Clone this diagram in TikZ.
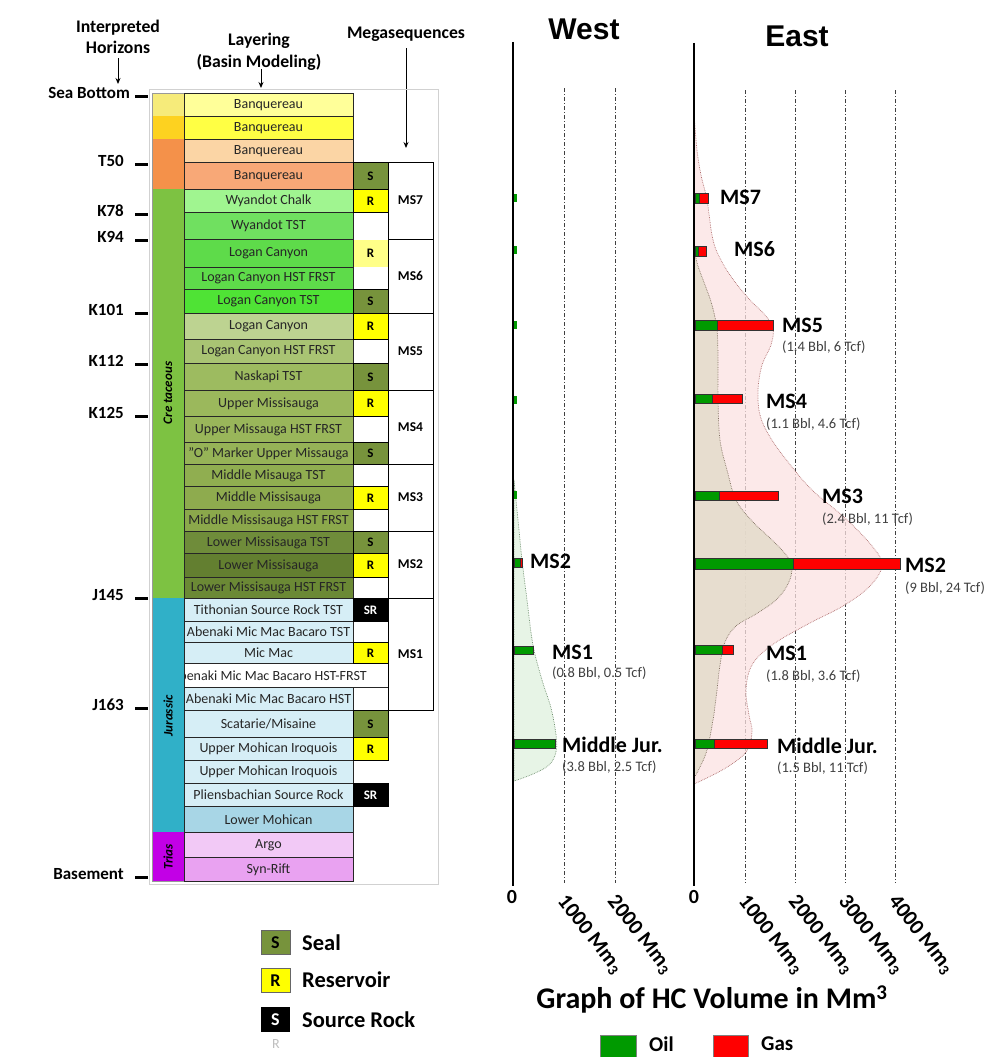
\documentclass[tikz,border=0pt]{standalone}
\usepackage{fontspec}
\setmainfont{Carlito}
\newfontfamily\arialf{Liberation Sans}
\usetikzlibrary{arrows.meta}
\definecolor{ageA}{HTML}{F6EB7A}
\definecolor{ageB}{HTML}{FDD220}
\definecolor{ageC}{HTML}{F4914A}
\definecolor{ageK}{HTML}{7DC242}
\definecolor{ageJ}{HTML}{30B0C8}
\definecolor{ageT}{HTML}{C200E6}
\definecolor{c1}{HTML}{FFFF99}
\definecolor{c2}{HTML}{FFFF44}
\definecolor{c3}{HTML}{FBD5A5}
\definecolor{c4}{HTML}{F8A877}
\definecolor{c5}{HTML}{A0F590}
\definecolor{c6}{HTML}{70E060}
\definecolor{c7}{HTML}{5EDB4A}
\definecolor{c9}{HTML}{4FE335}
\definecolor{c10}{HTML}{BDD391}
\definecolor{c11}{HTML}{A9C473}
\definecolor{c12}{HTML}{9DBB60}
\definecolor{c13}{HTML}{9BB85C}
\definecolor{c14}{HTML}{99B65A}
\definecolor{c15}{HTML}{96B357}
\definecolor{c16}{HTML}{90AE50}
\definecolor{c17}{HTML}{8EAB4E}
\definecolor{c18}{HTML}{8BA84B}
\definecolor{c19}{HTML}{6F8C3A}
\definecolor{c20}{HTML}{637F30}
\definecolor{c21}{HTML}{6B8935}
\definecolor{cJ}{HTML}{D6EEF6}
\definecolor{cLM}{HTML}{A8D6E6}
\definecolor{cArgo}{HTML}{F2C9F6}
\definecolor{cSyn}{HTML}{E9A2F1}
\definecolor{sealc}{HTML}{77933C}
\definecolor{resc}{HTML}{FFFF00}
\definecolor{respale}{HTML}{FFFF88}
\definecolor{oilg}{HTML}{009A00}
\definecolor{gasr}{HTML}{FF0000}
\definecolor{pinkf}{HTML}{FCE2E2}
\definecolor{pinkd}{HTML}{B07070}
\definecolor{tanf}{HTML}{E4DCCB}
\definecolor{tand}{HTML}{807060}
\definecolor{westf}{HTML}{E2F2E0}
\definecolor{westd}{HTML}{709070}
\newcommand\fsz[1]{\fontsize{#1}{#1}\selectfont}
\newcommand\lay[5]{%
  \filldraw[fill=#4, laybord] (184,#2) rectangle (353,#3);
  \node[laytxt] (#1) at (268.5,{(#2+#3)/2+0.5}) {#5};}
\newcommand\srcell[6]{%
  \filldraw[fill=#3, cellbord] (353,#1) rectangle (388,#2);
  \node[srtxt, text=#4] (#5) at (370.5,{(#1+#2)/2+0.5}) {#6};}
\newcommand\msbox[4]{%
  \filldraw[fill=white, cellbord] (388,#2) rectangle (433,#3);
  \node[mstxt] (#1) at (410.5,{(#2+#3)/2}) {#4};}
\newcommand\hcbar[5]{%
  \filldraw[fill=oilg, barbord] (#3,#1) rectangle (#4,#2);
  \filldraw[fill=gasr, barbord] (#4,#1) rectangle (#5,#2);}
\begin{document}
\begin{tikzpicture}[x=1pt,y=-1pt,
  laybord/.style={draw=black!85, line width=1pt},
  cellbord/.style={draw=black, line width=0.9pt},
  barbord/.style={draw=black!80, line width=0.6pt},
  laytxt/.style={font=\fsz{14}, text=black!85, inner sep=0pt},
  srtxt/.style={font=\bfseries\fsz{13}, inner sep=0pt},
  mstxt/.style={font=\bfseries\fsz{13.5}, inner sep=0pt},
  hor/.style={font=\bfseries\fsz{17}, anchor=east, inner sep=0pt},
  hortick/.style={line width=3pt},
  hdr/.style={font=\bfseries\fontsize{17.7}{21.5}\selectfont, align=center, inner sep=0pt},
  arr/.style={-{Stealth[length=6pt,width=5pt]}, line width=0.9pt},
  agetxt/.style={font=\bfseries\itshape\fsz{13}, rotate=90, inner sep=0pt},
  gridl/.style={line width=0.8pt, black!75, dash pattern=on 4pt off 2pt on 1pt off 2pt},
  axisl/.style={line width=2.6pt},
  bigms/.style={font=\bfseries\fsz{22}, anchor=west, inner sep=0pt},
  subms/.style={font=\fsz{14.5}, text=black!75, anchor=west, inner sep=0pt},
  ticklab/.style={font=\bfseries\fsz{20}, inner sep=0pt},
  rotlab/.style={font=\bfseries\fsz{21.5}, rotate=-52, anchor=west, inner sep=0pt},
  legtxt/.style={font=\bfseries\fsz{22.5}, anchor=west, inner sep=0pt},
  title/.style={font=\arialf\bfseries\fsz{30}, inner sep=0pt}]
\useasboundingbox (0,0) rectangle (987,1057);
\fill[white] (0,0) rectangle (987,1057);

% ---------- headers ----------
\node[hdr] (hInt) at (118,37) {Interpreted\\Horizons};
\coordinate (aInt) at (118,84);
\draw[arr] (hInt.south) ++(0,4) coordinate (sInt) (sInt) -- (aInt);
\node[hdr] (hLay) at (259,52) {Layering\\(Basin Modeling)};
\coordinate (aLay) at (261,88);
\draw[arr] (261,69) coordinate (sLay) (sLay) -- (aLay);
\node[hdr] (hMeg) at (406,34) {Megasequences};
\coordinate (aMeg) at (406,148);
\draw[arr] (hMeg.south) ++(0,7) coordinate (sMeg) (sMeg) -- (aMeg);

% ---------- frame ----------
\draw[black!18, line width=0.8pt] (149,89) rectangle (438,884);

% ---------- age column ----------
\fill[ageA] (152,93) rectangle (184,116);
\fill[ageB] (152,116) rectangle (184,139);
\fill[ageC] (152,139) rectangle (184,189);
\fill[ageK] (152,189) rectangle (184,598);
\fill[ageJ] (152,598) rectangle (184,832);
\fill[ageT] (152,832) rectangle (184,881);
\draw[black!40, line width=0.5pt] (152,93) rectangle (184,881);
\node[agetxt] (aK) at (168,393) {Cre taceous};
\node[agetxt] (aJ) at (168,716) {Jurassic};
\node[agetxt] (aT) at (168,857) {Trias};

% ---------- layers ----------
\lay{L1}{93}{116}{c1}{Banquereau}
\lay{L2}{116}{139}{c2}{Banquereau}
\lay{L3}{139}{162}{c3}{Banquereau}
\lay{L4}{162}{189}{c4}{Banquereau}
\lay{L5}{189}{212}{c5}{Wyandot Chalk}
\lay{L6}{212}{239}{c6}{Wyandot TST}
\lay{L7}{239}{267}{c7}{Logan Canyon}
\lay{L8}{267}{289}{c7}{Logan Canyon HST FRST}
\lay{L9}{289}{313}{c9}{Logan Canyon TST}
\lay{L10}{313}{339}{c10}{Logan Canyon}
\lay{L11}{339}{363}{c11}{Logan Canyon HST FRST}
\lay{L12}{363}{390}{c12}{Naskapi TST}
\lay{L13}{390}{416}{c13}{Upper Missisauga}
\lay{L14}{416}{442}{c14}{Upper Missauga HST FRST}
\lay{L15}{442}{464}{c15}{"O" Marker Upper Missauga}
\lay{L16}{464}{486}{c16}{Middle Misauga TST}
\lay{L17}{486}{509}{c17}{Middle Missisauga}
\lay{L18}{509}{531}{c18}{Middle Missisauga HST FRST}
\lay{L19}{531}{553}{c19}{Lower Missisauga TST}
\lay{L20}{553}{577}{c20}{Lower Missisauga}
\lay{L21}{577}{598}{c21}{Lower Missisauga HST FRST}
\lay{L22}{598}{621}{cJ}{Tithonian Source Rock TST}
\lay{L23}{621}{642}{cJ}{Abenaki Mic Mac Bacaro TST}
\lay{L24}{642}{663}{cJ}{Mic Mac}
\filldraw[fill=white, laybord] (184,663) rectangle (388,687);
\begin{scope}
\clip (184.5,663) rectangle (388,687);
\node[laytxt] (L25) at (269,675.5) {Abenaki Mic Mac Bacaro HST-FRST};
\end{scope}
\lay{L26}{687}{710}{cJ}{Abenaki Mic Mac Bacaro HST}
\lay{L27}{710}{737}{cJ}{Scatarie/Misaine}
\lay{L28}{737}{760}{cJ}{Upper Mohican Iroquois}
\lay{L29}{760}{783}{cJ}{Upper Mohican Iroquois}
\lay{L30}{783}{806}{cJ}{Pliensbachian Source Rock}
\lay{L31}{806}{832}{cLM}{Lower Mohican}
\lay{L32}{832}{857}{cArgo}{Argo}
\lay{L33}{857}{881}{cSyn}{Syn-Rift}

% ---------- megasequences ----------
\msbox{M7}{162}{239}{MS7}
\msbox{M6}{239}{313}{MS6}
\msbox{M5}{313}{390}{MS5}
\msbox{M4}{390}{464}{MS4}
\msbox{M3}{464}{531}{MS3}
\msbox{M2}{531}{598}{MS2}
\msbox{M1}{598}{710}{MS1}

% ---------- seal / reservoir / source ----------
\srcell{162}{189}{sealc}{black}{S4}{S}
\srcell{189}{212}{resc}{black}{S5}{R}
\fill[respale] (353.5,239.5) rectangle (387.5,266.5);
\node[srtxt] (S7) at (370.5,253.5) {R};
\srcell{289}{313}{sealc}{black}{S9}{S}
\srcell{313}{339}{resc}{black}{S10}{R}
\srcell{363}{390}{sealc}{black}{S12}{S}
\srcell{390}{416}{resc}{black}{S13}{R}
\srcell{442}{464}{sealc}{black}{S15}{S}
\srcell{486}{509}{resc}{black}{S17}{R}
\srcell{531}{553}{sealc}{black}{S19}{S}
\srcell{553}{577}{resc}{black}{S20}{R}
\srcell{598}{621}{black}{white}{S22}{SR}
\srcell{642}{663}{resc}{black}{S24}{R}
\srcell{710}{737}{sealc}{black}{S27}{S}
\srcell{737}{760}{resc}{black}{S28}{R}
\srcell{783}{806}{black}{white}{S30}{SR}

% ---------- horizons ----------
\node[hor] (hSB) at (130,93) {Sea Bottom};
\draw[hortick] (135,96) -- (148,96);
\foreach \nm/\lb/\ty in {hT50/T50/164, hK78/K78/214, hK94/K94/240, hK101/K101/313,
   hK112/K112/364, hK125/K125/416, hJ145/J145/598, hJ163/J163/708, hBas/Basement/877}{
  \node[hor] (\nm) at (124,\ty-3) {\lb};
  \draw[hortick] (135,\ty) -- (148,\ty);
}

% ---------- legend (left) ----------
\filldraw[fill=sealc, draw=black!60] (261,930) rectangle (290,954);
\node[font=\bfseries\fsz{18}] (lgS) at (275.5,942.5) {S};
\node[legtxt] (lgSt) at (302,943) {Seal};
\filldraw[fill=resc, draw=black!60] (261,968) rectangle (290,992);
\node[font=\bfseries\fsz{18}] (lgR) at (275.5,980.5) {R};
\node[legtxt] (lgRt) at (302,980) {Reservoir};
\fill[black] (261,1007) rectangle (290,1032);
\node[font=\bfseries\fsz{18}, text=white] (lgSR) at (275.5,1020) {S};
\node[legtxt] (lgSRt) at (302,1020) {Source Rock};
\node[font=\fsz{14}, text=black!25] (lgFaint) at (276,1044) {R};

% ---------- graph titles ----------
\node[title] (tW) at (584,29) {West};
\node[title] (tE) at (797,36) {East};

% ---------- grid lines ----------
\foreach \gx in {564,615}{\draw[gridl] (\gx,88) -- (\gx,883);}
\foreach \gx in {745,795,845,895}{\draw[gridl] (\gx,90) -- (\gx,883);}

% ---------- envelopes ----------
\filldraw[fill=westf, fill opacity=0.8, draw=westd, densely dotted, line width=0.7pt]
  plot[smooth, tension=0.6] coordinates {(514,480) (516,500) (519,530) (522,560) (527,600)
   (533,645) (542,680) (551,708) (556,735) (556,752) (549,765) (533,774) (514,781)} -- cycle;
\filldraw[fill=pinkf, fill opacity=0.75, draw=pinkd, densely dotted, line width=0.7pt]
  plot[smooth, tension=0.6] coordinates {(694,113) (697,150) (701,175) (707,200) (713,240)
   (722,262) (735,282) (750,300) (765,315) (773,328) (771,345) (762,365) (758,390)
   (760,415) (770,437) (788,462) (812,490) (845,518) (872,546) (882,565) (870,586)
   (843,606) (808,624) (772,645) (752,665) (746,690) (749,715) (752,732) (746,752)
   (724,769) (694,784)} -- cycle;
\filldraw[fill=tanf, fill opacity=0.85, draw=tand, densely dotted, line width=0.7pt]
  plot[smooth, tension=0.6] coordinates {(694,250) (698,266) (705,285) (712,305) (717,330)
   (718,360) (718,400) (720,440) (727,470) (736,500) (752,521) (772,540) (787,556)
   (792,568) (788,584) (776,600) (756,614) (736,626) (725,642) (720,665) (717,690)
   (713,720) (707,750) (700,767) (694,778)} -- cycle;

% ---------- axes ----------
\coordinate (wTop) at (513,42); \coordinate (wBot) at (513,886);
\coordinate (eTop) at (694,43); \coordinate (eBot) at (694,886);
\draw[axisl] (wTop) -- (wBot);
\draw[axisl] (eTop) -- (eBot);

% ---------- bars: east ----------
\hcbar{193}{203}{695}{699}{708}
\hcbar{246}{256}{695}{698}{706}
\hcbar{320}{330}{695}{717}{773}
\hcbar{394}{403}{695}{712}{742}
\hcbar{491}{500}{695}{719}{778}
\hcbar{558}{569}{695}{793}{900}
\hcbar{645}{654}{695}{722}{733}
\hcbar{739}{748}{695}{714}{767}

% ---------- bars: west ----------
\foreach \ty in {198,250,325,400,495}{\fill[oilg] (514,\ty-4) rectangle (517,\ty+4);}
\hcbar{558}{567}{514}{520}{522}
\filldraw[fill=oilg, barbord] (514,646) rectangle (533,654);
\filldraw[fill=oilg, barbord] (514,739) rectangle (555,748);

% ---------- graph labels ----------
\node[bigms] (eMS7) at (720,197) {MS7};
\node[bigms] (eMS6) at (734,249) {MS6};
\node[bigms] (eMS5) at (782,325) {MS5};
\node[subms] (eMS5s) at (782,347) {(1.4 Bbl, 6 Tcf)};
\node[bigms] (eMS4) at (766,401) {MS4};
\node[subms] (eMS4s) at (766,424) {(1.1 Bbl, 4.6 Tcf)};
\node[bigms] (eMS3) at (822,496) {MS3};
\node[subms] (eMS3s) at (822,519) {(2.4 Bbl, 11 Tcf)};
\node[bigms] (eMS2) at (905,565) {MS2};
\node[subms] (eMS2s) at (905,588) {(9 Bbl, 24 Tcf)};
\node[bigms] (eMS1) at (766,653) {MS1};
\node[subms] (eMS1s) at (766,676) {(1.8 Bbl, 3.6 Tcf)};
\node[bigms] (eMJ) at (777,746) {Middle Jur.};
\node[subms] (eMJs) at (777,768) {(1.5 Bbl, 11 Tcf)};
\node[bigms] (wMS2) at (530,561) {MS2};
\node[bigms] (wMS1) at (552,652) {MS1};
\node[subms] (wMS1s) at (552,673) {(0.8 Bbl, 0.5 Tcf)};
\node[bigms] (wMJ) at (562,745) {Middle Jur.};
\node[subms] (wMJs) at (562,767) {(3.8 Bbl, 2.5 Tcf)};

% ---------- axis tick labels ----------
\node[ticklab] (w0) at (512,897) {0};
\node[ticklab] (e0) at (694,897) {0};
\node[rotlab] (w1) at (561,898) {1000 Mm\textsubscript{3}};
\node[rotlab] (w2) at (611,898) {2000 Mm\textsubscript{3}};
\node[rotlab] (e1) at (742,898) {1000 Mm\textsubscript{3}};
\node[rotlab] (e2) at (792,898) {2000 Mm\textsubscript{3}};
\node[rotlab] (e3) at (842,898) {3000 Mm\textsubscript{3}};
\node[rotlab] (e4) at (892,898) {4000 Mm\textsubscript{3}};

\node[font=\bfseries\fsz{30}, inner sep=0pt] (gtitle) at (712,999) {Graph of HC Volume in Mm\textsuperscript{3}};

% ---------- oil / gas legend ----------
\filldraw[fill=oilg, draw=black!50] (600,1035) rectangle (636,1062);
\node[legtxt, font=\bfseries\fsz{21}] (lgOil) at (649,1044) {Oil};
\filldraw[fill=gasr, draw=black!50] (713,1035) rectangle (748,1062);
\node[legtxt, font=\bfseries\fsz{21}] (lgGas) at (761,1044) {Gas};
\end{tikzpicture}
\end{document}
